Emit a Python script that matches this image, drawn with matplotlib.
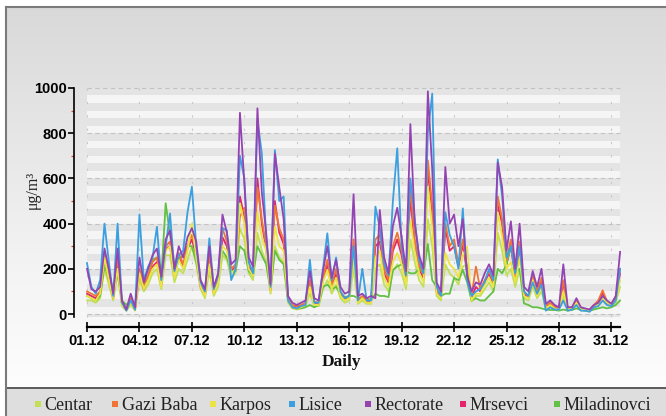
import numpy as np
import matplotlib
matplotlib.use("Agg")
import matplotlib.pyplot as plt
from matplotlib.patches import Rectangle
from matplotlib.colors import LinearSegmentedColormap

# ---------------- data (µg/m3, 6-hourly samples, 01.12 00:00 .. 31.12 12:00) ----------------
step_days = 0.25

rectorate = [
    200, 110, 100, 120,   290, 200, 90, 290,    60, 20, 90, 30,      250, 140, 200, 260,
    290, 165, 330, 370,   200, 300, 250, 340,   380, 320, 150, 110,  300, 120, 180, 440,
    360, 220, 240, 890,   580, 250, 210, 910,   540, 360, 130, 710,  560, 420, 80, 50,
    40, 50, 60, 190,      70, 60, 190, 300,     160, 240, 120, 90,   100, 530, 80, 90,
    70, 80, 70, 460,      250, 180, 390, 470,   340, 190, 840, 400,  260, 200, 985, 640,
    140, 100, 650, 400,   440, 300, 420, 170,   100, 140, 130, 180,  220, 170, 670, 560,
    280, 410, 200, 400,   120, 100, 190, 120,   200, 45, 60, 40,     30, 220, 30, 30,
    70, 30, 25, 20,       40, 50, 80, 60,       45, 80, 275]

lisice = [
    225, 120, 90, 150,    400, 230, 80, 400,    50, 15, 60, 20,      440, 150, 210, 250,
    386, 150, 300, 445,   190, 260, 280, 450,   563, 300, 140, 100,  335, 110, 170, 380,
    370, 150, 200, 700,   600, 230, 180, 860,   710, 340, 120, 725,  500, 520, 60, 30,
    25, 35, 40, 240,      50, 50, 200, 357,     150, 250, 100, 70,   80, 300, 60, 200,
    60, 60, 475, 380,     220, 170, 500, 733,   300, 170, 600, 420,  240, 180, 800, 975,
    120, 80, 450, 350,    300, 200, 467, 150,   80, 100, 110, 140,   200, 150, 684, 520,
    250, 300, 180, 300,   100, 80, 140, 90,     130, 15, 30, 20,     20, 60, 15, 20,
    40, 15, 15, 10,       30, 35, 60, 40,       35, 60, 200]

karpos = [
    80, 70, 60, 90,       250, 150, 70, 200,    40, 15, 50, 20,      180, 110, 150, 200,
    220, 120, 280, 300,   160, 240, 200, 280,   400, 250, 120, 80,   220, 90, 140, 300,
    280, 180, 200, 490,   400, 200, 170, 450,   340, 280, 100, 386,  300, 280, 60, 30,
    25, 30, 40, 120,      40, 40, 140, 195,     110, 160, 80, 60,    70, 250, 50, 70,
    50, 50, 250, 280,     160, 120, 230, 270,   220, 130, 415, 280,  180, 140, 563, 380,
    90, 70, 270, 220,     200, 160, 260, 298,   60, 90, 90, 130,     160, 120, 450, 342,
    200, 230, 140, 250,   80, 70, 150, 80,      120, 25, 40, 25,     20, 100, 20, 25,
    50, 20, 20, 15,       30, 45, 70, 50,       40, 60, 150]

gazi_baba = [
    100, 90, 80, 100,     260, 180, 80, 250,    50, 20, 70, 25,      200, 120, 170, 230,
    250, 140, 300, 320,   180, 270, 220, 300,   350, 280, 130, 90,   260, 100, 160, 380,
    320, 200, 220, 430,   470, 220, 190, 560,   420, 300, 110, 480,  380, 330, 70, 40,
    35, 40, 50, 150,      55, 50, 160, 240,     130, 200, 100, 70,   80, 330, 60, 80,
    60, 65, 330, 350,     200, 150, 300, 360,   280, 160, 560, 330,  220, 170, 680, 480,
    110, 80, 400, 300,    330, 220, 330, 200,   80, 210, 110, 150,   190, 140, 520, 420,
    240, 330, 170, 320,   100, 80, 170, 100,    160, 35, 50, 35,     25, 150, 25, 30,
    60, 25, 20, 20,       40, 60, 105, 55,      45, 75, 200]

centar = [
    60, 60, 50, 70,       200, 130, 60, 180,    35, 15, 40, 15,      150, 100, 130, 180,
    200, 110, 260, 260,   140, 200, 180, 240,   300, 220, 110, 70,   190, 80, 120, 260,
    240, 160, 180, 380,   330, 180, 150, 360,   280, 230, 90, 300,   250, 230, 50, 25,
    20, 25, 35, 90,       35, 35, 110, 150,     90, 130, 70, 50,     60, 200, 45, 60,
    45, 45, 200, 220,     130, 100, 190, 220,   180, 110, 330, 230,  150, 120, 420, 300,
    80, 60, 220, 180,     160, 130, 210, 220,   55, 80, 80, 110,     140, 100, 360, 280,
    170, 200, 120, 200,   70, 60, 120, 70,      100, 20, 35, 20,     18, 80, 18, 20,
    40, 18, 15, 12,       25, 40, 60, 45,       35, 50, 120]

mrsevci = [
    90, 80, 70, 90,       230, 160, 70, 220,    45, 18, 60, 20,      190, 110, 160, 210,
    230, 130, 290, 300,   170, 250, 210, 290,   330, 260, 120, 85,   240, 95, 150, 340,
    300, 190, 210, 520,   430, 210, 180, 600,   400, 290, 105, 500,  360, 310, 65, 35,
    30, 35, 45, 140,      50, 45, 150, 220,     120, 180, 90, 65,    75, 300, 55, 75,
    55, 60, 300, 320,     180, 140, 280, 330,   260, 150, 520, 300,  200, 160, 640, 450,
    100, 75, 380, 280,    300, 210, 310, 180,   75, 120, 100, 140,   180, 130, 480, 400,
    220, 300, 160, 300,   90, 75, 160, 90,      150, 30, 45, 30,     22, 140, 22, 28,
    55, 22, 18, 18,       35, 55, 95, 50,       40, 70, 180]

miladinovci = [
    80, 70, 60, 80,       220, 150, 100, 180,   60, 40, 60, 30,      200, 130, 170, 240,
    250, 160, 490, 350,   220, 240, 260, 300,   300, 230, 140, 100,  220, 110, 170, 280,
    250, 190, 190, 300,   280, 190, 170, 300,   260, 220, 110, 280,  240, 220, 60, 30,
    25, 25, 30, 40,       30, 40, 120, 130,     110, 120, 90, 75,    80, 80, 70, 75,
    70, 60, 90, 80,       80, 75, 195, 210,     220, 190, 180, 180,  200, 180, 310, 150,
    120, 80, 90, 90,      160, 150, 195, 140,   60, 70, 60, 60,      80, 100, 200, 180,
    220, 305, 180, 200,   47, 40, 30, 30,       25, 20, 18, 18,      15, 20, 15, 18,
    25, 18, 15, 15,       20, 25, 30, 25,       30, 40, 60]

stations = ["Centar", "Gazi Baba", "Karpos", "Lisice", "Rectorate", "Mrsevci", "Miladinovci"]
series = {"Centar": centar, "Gazi Baba": gazi_baba, "Karpos": karpos, "Lisice": lisice,
          "Rectorate": rectorate, "Mrsevci": mrsevci, "Miladinovci": miladinovci}
colors = {"Centar": "#c2df55", "Gazi Baba": "#f07434", "Karpos": "#ece443", "Lisice": "#3c9fe0",
          "Rectorate": "#9444b2", "Mrsevci": "#e6246c", "Miladinovci": "#62c044"}
draw_order = ["Centar", "Mrsevci", "Miladinovci", "Gazi Baba", "Karpos", "Lisice", "Rectorate"]

tick_days = [0, 3, 6, 9, 12, 15, 18, 21, 24, 27, 30]
tick_labels = ["01.12", "04.12", "07.12", "10.12", "13.12", "16.12",
               "19.12", "22.12", "25.12", "28.12", "31.12"]
y_ticks = [0, 200, 400, 600, 800, 1000]
y_minor = [100, 300, 500, 700, 900]

for k, v in series.items():
    assert len(v) == len(rectorate), (k, len(v))
days = np.arange(len(rectorate)) * step_days

# ---------------- figure ----------------
W, H = 666, 416
fig = plt.figure(figsize=(W / 100, H / 100), dpi=100)
fig.patch.set_facecolor("white")

bg = fig.add_axes([0, 0, 1, 1], zorder=-10)
bg.set_xlim(0, W)
bg.set_ylim(H, 0)
bg.axis("off")
cmap = LinearSegmentedColormap.from_list("bg", [(0, "#d9d9d9"), (0.25, "#e3e3e3"),
                                                 (0.7, "#f4f4f4"), (1, "#fdfdfd")])
grad = np.linspace(0, 1, 256)[:, None]
bg.imshow(grad, cmap=cmap, extent=[6, W, 388, 7], aspect="auto", interpolation="bilinear")
bg.add_patch(Rectangle((6, 388), W - 6, H - 388, facecolor="#dedede", edgecolor="none"))
bg.plot([6, W], [388, 388], color="#505050", lw=1.3)
bg.plot([6, W], [7, 7], color="#7a7a7a", lw=1.5)
bg.plot([6, 6], [7, H], color="#7a7a7a", lw=1.5)

# legend (manual, bottom band)
leg_pos = {"Centar": 38, "Gazi Baba": 115, "Karpos": 213, "Lisice": 292,
           "Rectorate": 368, "Mrsevci": 463, "Miladinovci": 557}
for name in stations:
    x0 = leg_pos[name]
    bg.add_patch(Rectangle((x0 - 3, 404 - 3), 6, 6, facecolor=colors[name], edgecolor="none"))
    bg.text(x0 + 6.5, 405, name, family="Liberation Serif", fontsize=13,
            ha="left", va="center", color="#222222")

# axis titles
bg.text(33, 190, "μg/m³", rotation=90, family="Liberation Serif", fontsize=11.5,
        ha="center", va="center", color="#222222")
bg.text(342, 362, "Daily", family="Liberation Serif", fontweight="bold", fontsize=12.5,
        ha="center", va="center", color="#111111")

# main axes
x_left, x_right = 74, 621
y_top, y_bot = 85, 326.7
ax = fig.add_axes([x_left / W, 1 - y_bot / H, (x_right - x_left) / W, (y_bot - y_top) / H])
ax.patch.set_alpha(0)
ax.set_xlim(-0.744, 30.55)
ax.set_ylim(-56, 1013)

# striped background
band = 1000 / 30
edges = np.arange(1000, -15, -band)
for j, top in enumerate(edges):
    bottom = max(top - band, -15)
    fc = "#e4e4e4" if j % 2 == 0 else "#f5f5f5"
    ax.add_patch(Rectangle((0, bottom), 30.5, top - bottom, facecolor=fc, edgecolor="none", zorder=0))
ax.hlines(y_ticks, 0, 30.5, colors="#c2c2c2", linestyles=(0, (4, 3)), lw=0.8, zorder=1)
ax.vlines(tick_days, -15, 1000, colors="#c8c8c8", linestyles=(0, (2, 10)), lw=0.8, zorder=1)

for name in draw_order:
    ax.plot(days, series[name], color=colors[name], lw=1.3, solid_joinstyle="round", zorder=3)

for s in ["top", "right"]:
    ax.spines[s].set_visible(False)
ax.spines["left"].set_bounds(-12, 1000)
ax.spines["left"].set_linewidth(1.2)
ax.spines["bottom"].set_bounds(0, 30.5)
ax.spines["bottom"].set_linewidth(1.6)

ax.set_xticks(tick_days)
ax.set_xticklabels(tick_labels)
ax.set_yticks(y_ticks)
ax.set_yticks(y_minor, minor=True)
ax.tick_params(axis="x", direction="inout", length=7, width=1.2, pad=2, labelsize=10.5)
ax.tick_params(axis="y", which="major", direction="out", length=4, width=1.2, pad=1, labelsize=10.5)
ax.tick_params(axis="y", which="minor", direction="out", length=2.5, width=0.9, color="#e04040")
ax.tick_params(axis="x", which="minor", length=0)
for lab in ax.get_xticklabels() + ax.get_yticklabels():
    lab.set_family("Liberation Sans")
    lab.set_fontweight("bold")

fig.savefig("out.png", dpi=100, facecolor=fig.get_facecolor())
